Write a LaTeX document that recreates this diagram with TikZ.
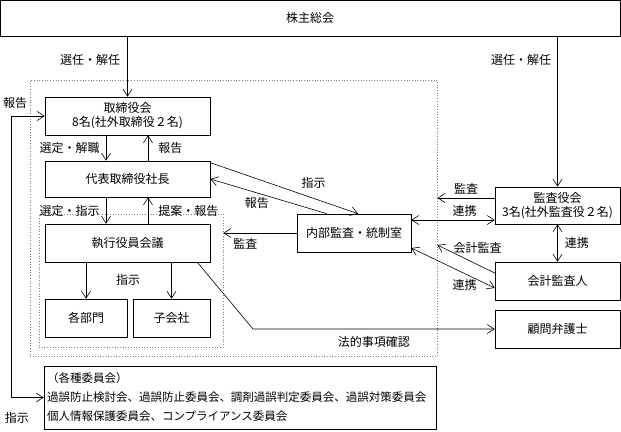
\documentclass[tikz,border=0pt]{standalone}
\usepackage{fontspec}
\setmainfont{Noto Sans CJK JP}
\usetikzlibrary{arrows.meta}

\begin{document}
\begin{tikzpicture}[x=1pt,y=-1pt,
  font=\fontsize{12}{14}\selectfont,
  >={Straight Barb[length=7pt,width=9pt]},
  line width=0.6pt,
  box/.style={draw,align=center,minimum height=38pt,inner sep=1pt},
  group/.style={draw=gray,dotted,line width=0.7pt,inner sep=0pt},
  lbl/.style={inner sep=1pt}]
 \useasboundingbox (0,0) rectangle (621,431);
 % dotted groups
 \node[group,minimum width=407pt,minimum height=276pt] (outer) at (233.5,218) {};
 \node[group,minimum width=184pt,minimum height=133pt] (inner) at (131,280.5) {};
 % boxes
 \node[box,minimum width=620pt,minimum height=36pt] (soukai) at (310,18) {株主総会};
 \node[box,minimum width=165pt] (tori) at (127.5,116) {取締役会\\8名(社外取締役２名)};
 \node[box,minimum width=165pt,minimum height=36pt] (daihyo) at (127.5,179) {代表取締役社長};
 \node[box,minimum width=165pt] (shikko) at (127.5,243) {執行役員会議};
 \node[box,minimum width=82pt] (bumon) at (86,318) {各部門};
 \node[box,minimum width=77pt] (kogaisha) at (171.5,318) {子会社};
 \node[box,minimum width=114pt] (naibu) at (354,233) {内部監査・統制室};
 \node[box,minimum width=125pt,minimum height=37pt] (kansayaku) at (557.5,205.5) {監査役会\\3名(社外監査役２名)};
 \node[box,minimum width=125pt] (kaikei) at (557.5,281) {会計監査人};
 \node[box,minimum width=125pt] (bengoshi) at (557.5,329) {顧問弁護士};
 \node[box,minimum width=392pt,minimum height=63pt,text width=386pt,align=left,
   font=\fontsize{11.5}{19}\selectfont] (iinkai) at (240,397.5)
   {（各種委員会）\\過誤防止検討会、過誤防止委員会、調剤過誤判定委員会、過誤対策委員会\\個人情報保護委員会、コンプライアンス委員会};
 \coordinate (houteki) at (253,329);
 % connectors
 \draw[->] (soukai.south -| tori.north) -- (tori.north)
   node[lbl,pos=0.39,left=6pt] (senin-l) {選任・解任};
 \draw[->] (soukai.south -| kansayaku.north) -- (kansayaku.north)
   node[lbl,pos=0.16,left=5pt] (senin-r) {選任・解任};
 \draw[->] ([xshift=-21.5pt]tori.south) -- ([xshift=-21.5pt]daihyo.north)
   node[lbl,midway,left=5pt] (sentei-kai) {選定・解職};
 \draw[->] ([xshift=20.5pt]daihyo.north) -- ([xshift=20.5pt]tori.south)
   node[lbl,midway,right=9pt] (hokoku-tori) {報告};
 \draw[->] ([xshift=-21.5pt]daihyo.south) -- ([xshift=-21.5pt]shikko.north)
   node[lbl,midway,left=5pt] (sentei-shi) {選定・指示};
 \draw[->] ([xshift=20.5pt]shikko.north) -- ([xshift=20.5pt]daihyo.south)
   node[lbl,midway,right=9pt] (teian) {提案・報告};
 \draw[->] (shikko.south -| bumon.north) -- (bumon.north);
 \draw[->] (shikko.south -| kogaisha.north) -- (kogaisha.north);
 \node[lbl] (shiji-shikko) at (128,280) {指示};
 \draw[->] ([yshift=-2pt]daihyo.north east) -- ([xshift=4pt]naibu.north)
   node[lbl,pos=0.7,above=9pt] (shiji-naibu) {指示};
 \draw[->] ([xshift=-27pt]naibu.north) -- (daihyo.east)
   node[lbl,pos=0.6,below=3pt] (hokoku-naibu) {報告};
 \draw[->] (naibu.west) -- (naibu.west -| inner.east)
   node[lbl,pos=0.7,below=4pt] (kansa-naibu) {監査};
 \draw[->] ([yshift=7.5pt]kansayaku.west) -- ([yshift=7.5pt]kansayaku.west -| outer.east)
   node[lbl,midway,above=2pt] (kansa-yaku) {監査};
 \draw[<->] ([yshift=13pt]naibu.east) -- ([yshift=13pt]naibu.east -| kansayaku.west)
   node[lbl,pos=0.64,above=2pt] (renkei-yaku) {連携};
 \draw[<->] (kansayaku.south) -- (kaikei.north)
   node[lbl,midway,right=6pt] (renkei-kaikei) {連携};
 \draw[->] ([yshift=8pt]kaikei.west) -- ([yshift=-27pt]outer.east)
   node[lbl,pos=0.3,above=10pt] (kaikei-kansa) {会計監査};
 \draw[<->] ([yshift=-15pt]naibu.east) -- ([yshift=-7pt]kaikei.west)
   node[lbl,pos=0.64,below=5pt] (renkei-naibu) {連携};
 \draw[->] ([xshift=-13pt]shikko.south east) -- (houteki) -- (bengoshi.west)
   node[lbl,midway,below=6pt] (houteki-lbl) {法的事項確認};
 \draw[<->] (tori.west) -- ++(-33,0) |- (iinkai.west);
 \node[lbl] (hokoku-l) at (15,103) {報告};
 \node[lbl] (shiji-l) at (17,418) {指示};
\end{tikzpicture}
\end{document}
